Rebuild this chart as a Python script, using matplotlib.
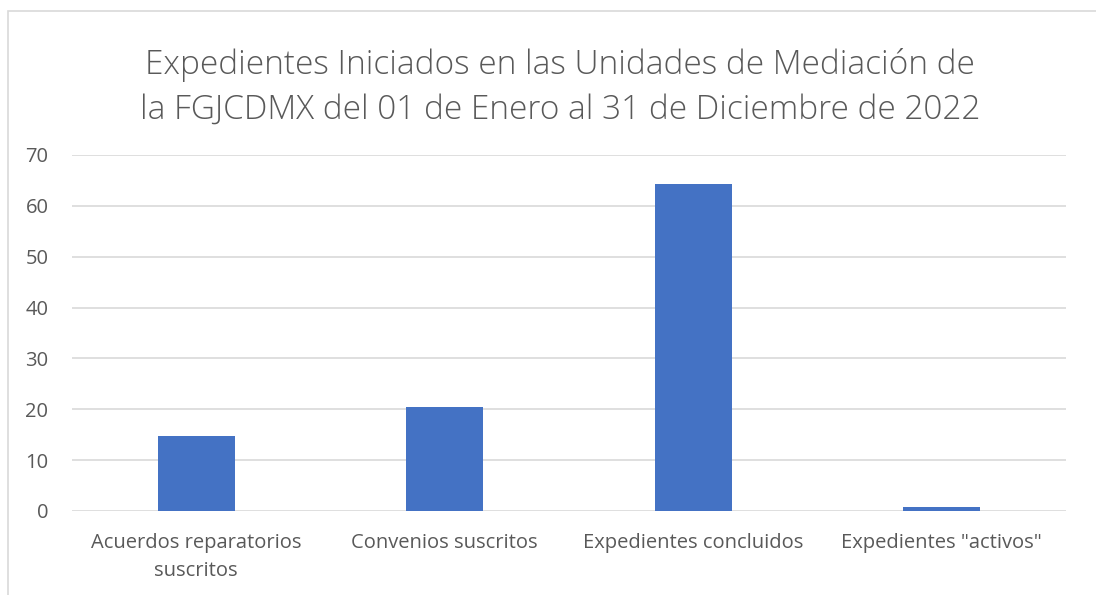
import matplotlib.pyplot as plt
from matplotlib.patches import Rectangle

categories = ["Acuerdos reparatorios\nsuscritos", "Convenios suscritos",
              "Expedientes concluidos", 'Expedientes "activos"']
values = [14.7, 20.4, 64.2, 0.7]
yticks = [0, 10, 20, 30, 40, 50, 60, 70]
title = ("Expedientes Iniciados en las Unidades de Mediación de\n"
         "la FGJCDMX del 01 de Enero al 31 de Diciembre de 2022")

plt.rcParams["font.family"] = ["Open Sans", "DejaVu Sans"]
gray = "#595959"

fig = plt.figure(figsize=(10.96, 5.95), dpi=100)
ax = fig.add_axes([72 / 1096, 1 - 511 / 595, (1066 - 72) / 1096, (511 - 155) / 595])

x = range(len(categories))
ax.bar(x, values, width=0.31, color="#4472c4", zorder=3)

ax.set_xlim(-0.5, 3.5)
ax.set_ylim(0, 70)
ax.set_yticks(yticks)
ax.set_xticks(list(x))
ax.set_xticklabels(categories, fontsize=14.5, color=gray, linespacing=1.55)
ax.tick_params(axis="y", labelsize=14.5, colors=gray, length=0, pad=17)
ax.tick_params(axis="x", length=0, pad=16)
ax.grid(axis="y", color="#d9d9d9", linewidth=1.2, zorder=0)
for s in ax.spines.values():
    s.set_visible(False)

fig.text(560 / 1096, 1 - 87 / 595, title, ha="center", va="center",
         fontsize=24, color=gray, linespacing=1.45, fontweight="light")

# chart area border
fig.patches.append(Rectangle((8 / 1096, -0.1), 1.2, 1 - 11 / 595 + 0.1,
                             transform=fig.transFigure, fill=False,
                             edgecolor="#d9d9d9", linewidth=1.2))

fig.savefig("out.png", dpi=100)
